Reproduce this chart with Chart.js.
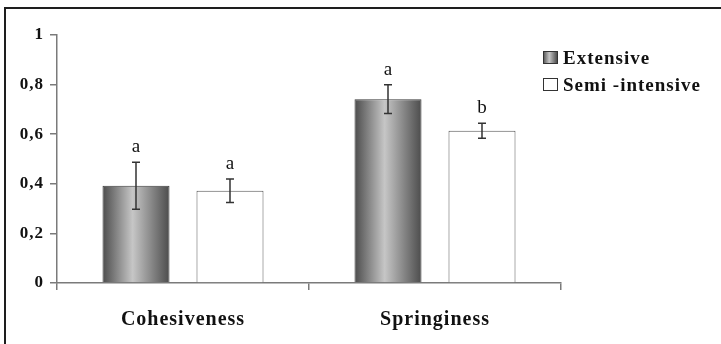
<!DOCTYPE html>
<html>
<head>
    <title>Cohesiveness and Springiness</title>
    <script src="https://cdn.jsdelivr.net/npm/chart.js"></script>
    <style>
        body {
            margin: 0;
            background: white;
            overflow: hidden;
        }
        #wrap {
            position: relative;
            width: 721px;
            height: 344px;
        }
        .frame {
            position: absolute;
            left: 4px;
            top: 7px;
            width: 740px;
            height: 360px;
            border-top: 2px solid #1e1e1e;
            border-left: 2px solid #1e1e1e;
            pointer-events: none;
        }
    </style>
</head>
<body>
<div id="wrap">
    <canvas id="chart" width="721" height="344"></canvas>
    <div class="frame"></div>
</div>

<script>
    // values
    const categories = ["Cohesiveness", "Springiness"];
    const extensive = [0.392, 0.741];
    const extensiveErr = [0.095, 0.058];
    const semiIntensive = [0.372, 0.614];
    const semiIntensiveErr = [0.047, 0.030];
    const extensiveLetters = ["a", "a"];
    const semiLetters = ["a", "b"];
    const yTickLabels = ["0", "0,2", "0,4", "0,6", "0,8", "1"];

    const CAT_PCT = 0.746;
    const BAR_PCT = 0.713;
    const serif = "'Liberation Serif', 'Times New Roman', serif";

    // horizontal grey gradient for the "Extensive" bars
    function extensiveFill(c) {
        const chart = c.chart;
        const x = chart.scales.x;
        if (!x || !chart.chartArea) return "#8a8a8a";
        const catW = x.getPixelForValue(1) - x.getPixelForValue(0);
        const slot = catW * CAT_PCT / 2;
        const center = x.getPixelForValue(c.dataIndex) - slot / 2;
        const half = slot * BAR_PCT / 2;
        const g = chart.ctx.createLinearGradient(center - half, 0, center + half, 0);
        g.addColorStop(0, "#4c4c4c");
        g.addColorStop(0.45, "#c6c6c6");
        g.addColorStop(1, "#4c4c4c");
        return g;
    }

    const letterSpacing = {
        id: "letterSpacing",
        beforeDraw(chart) {
            chart.ctx.letterSpacing = "1px";
        }
    };

    // error bars and significance letters
    const errorBars = {
        id: "errorBars",
        afterDatasetsDraw(chart) {
            const ctx = chart.ctx;
            const y = chart.scales.y;
            const errs = [extensiveErr, semiIntensiveErr];
            const letters = [extensiveLetters, semiLetters];
            ctx.save();
            ctx.letterSpacing = "0px";
            ctx.strokeStyle = "#333";
            ctx.lineWidth = 1.5;
            chart.data.datasets.forEach((ds, di) => {
                chart.getDatasetMeta(di).data.forEach((bar, i) => {
                    const v = ds.data[i];
                    const top = y.getPixelForValue(v + errs[di][i]);
                    const bot = y.getPixelForValue(v - errs[di][i]);
                    ctx.beginPath();
                    ctx.moveTo(bar.x, top);
                    ctx.lineTo(bar.x, bot);
                    ctx.moveTo(bar.x - 4, top);
                    ctx.lineTo(bar.x + 4, top);
                    ctx.moveTo(bar.x - 4, bot);
                    ctx.lineTo(bar.x + 4, bot);
                    ctx.stroke();

                    ctx.fillStyle = "#111";
                    ctx.font = "19px " + serif;
                    ctx.textAlign = "center";
                    ctx.textBaseline = "alphabetic";
                    ctx.fillText(letters[di][i], bar.x, top - 10);
                });
            });
            ctx.restore();
        }
    };

    // legend to the right of the plot
    const sideLegend = {
        id: "sideLegend",
        afterDraw(chart) {
            const ctx = chart.ctx;
            const left = chart.chartArea.right - 18;
            const top = chart.chartArea.top + 16;
            ctx.save();
            ctx.letterSpacing = "1px";
            ctx.font = "bold 19px " + serif;
            ctx.textAlign = "left";
            ctx.textBaseline = "alphabetic";
            chart.data.datasets.forEach((ds, i) => {
                const by = top + i * 27;
                if (i === 0) {
                    const g = ctx.createLinearGradient(left, 0, left + 14, 0);
                    g.addColorStop(0, "#4c4c4c");
                    g.addColorStop(0.45, "#c6c6c6");
                    g.addColorStop(1, "#4c4c4c");
                    ctx.fillStyle = g;
                } else {
                    ctx.fillStyle = "#fff";
                }
                ctx.fillRect(left, by, 14, 12);
                ctx.strokeStyle = "#333";
                ctx.lineWidth = 1;
                ctx.strokeRect(left + 0.5, by + 0.5, 14, 12);
                ctx.fillStyle = "#111";
                ctx.fillText(ds.label, left + 20, by + 12.5);
            });
            ctx.restore();
        }
    };

    new Chart(document.getElementById("chart"), {
        type: "bar",
        data: {
            labels: categories,
            datasets: [
                {
                    label: "Extensive",
                    data: extensive,
                    backgroundColor: extensiveFill,
                    borderColor: "#3a3a3a",
                    borderWidth: 1,
                    categoryPercentage: CAT_PCT,
                    barPercentage: BAR_PCT
                },
                {
                    label: "Semi -intensive",
                    data: semiIntensive,
                    backgroundColor: "#ffffff",
                    borderColor: "#555",
                    borderWidth: 1,
                    categoryPercentage: CAT_PCT,
                    barPercentage: BAR_PCT
                }
            ]
        },
        options: {
            responsive: false,
            animation: false,
            devicePixelRatio: 1,
            layout: { padding: { top: 35, right: 160, bottom: 0, left: 0 } },
            plugins: {
                legend: { display: false },
                tooltip: { enabled: false }
            },
            scales: {
                x: {
                    grid: {
                        offset: true,
                        drawOnChartArea: false,
                        tickLength: 7,
                        color: "#7a7a7a",
                        lineWidth: 1.5
                    },
                    border: { color: "#7a7a7a", width: 1.5 },
                    ticks: {
                        color: "#111",
                        padding: 18,
                        font: { family: serif, size: 20, weight: "bold" }
                    },
                    afterFit(scale) { scale.height = 61; }
                },
                y: {
                    min: 0,
                    max: 1,
                    grid: {
                        drawOnChartArea: false,
                        tickLength: 7,
                        color: "#7a7a7a",
                        lineWidth: 1.5
                    },
                    border: { color: "#7a7a7a", width: 1.5 },
                    ticks: {
                        stepSize: 0.2,
                        color: "#111",
                        padding: 6,
                        font: { family: serif, size: 17, weight: "bold" },
                        callback: (v, i) => yTickLabels[i]
                    },
                    afterFit(scale) { scale.width = 57; }
                }
            }
        },
        plugins: [letterSpacing, errorBars, sideLegend]
    });
</script>
</body>
</html>
